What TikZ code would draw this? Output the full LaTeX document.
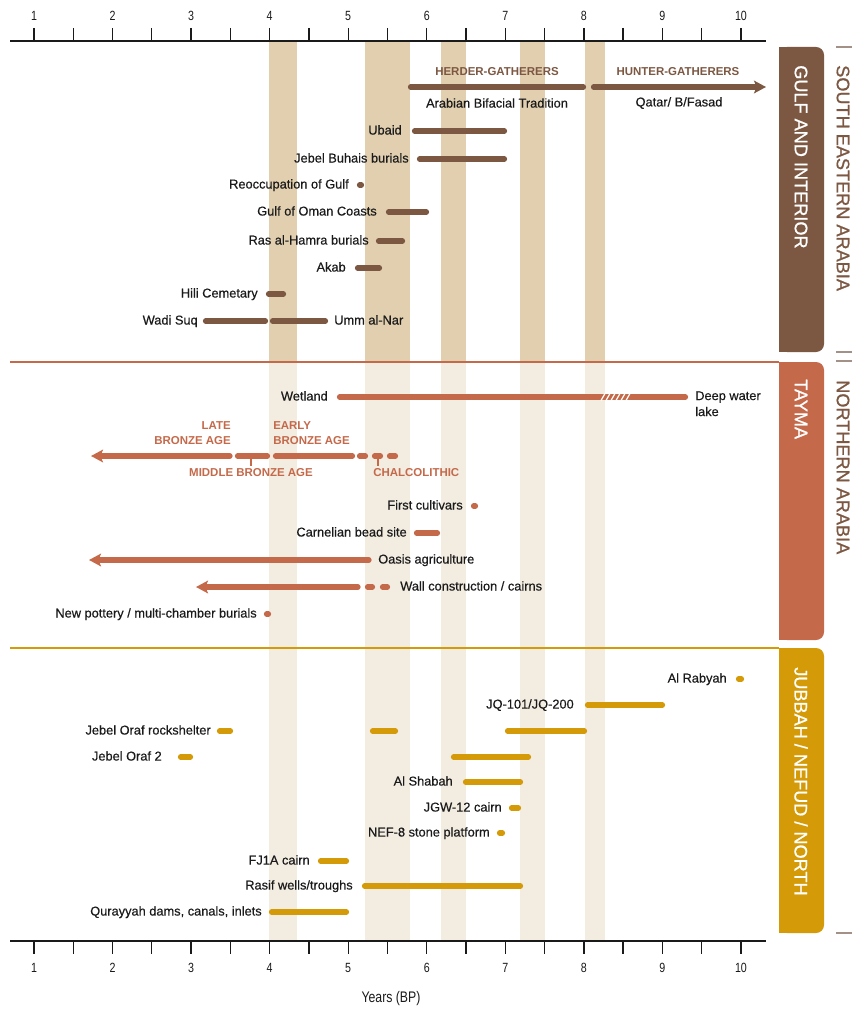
\documentclass[tikz,border=0pt]{standalone}
\usepackage{fontspec}
\setmainfont{Liberation Sans}
\newfontfamily\narrowfont[FakeStretch=0.8]{Liberation Sans}
\newfontfamily\medfont[FakeBold=0.45]{Liberation Sans}
\newfontfamily\tabfont[FakeBold=0.9]{Liberation Sans}
\usetikzlibrary{arrows.meta}
\definecolor{gulf}{HTML}{7C5742}
\definecolor{tay}{HTML}{C4694A}
\definecolor{jub}{HTML}{D49A08}
\definecolor{banddark}{HTML}{E1CFAF}
\definecolor{bandlight}{HTML}{F3ECE1}
\definecolor{txt}{HTML}{1A1A1A}
\definecolor{brk}{HTML}{A39086}
\newcommand\seg[4]{\draw[bar,#1] ({#3+2.5},#2) -- ({#4-2.5},#2);}
\begin{document}
\begin{tikzpicture}[x=0.75pt,y=-0.75pt,
  lbl/.style={font=\medfont\fontsize{9.6}{11}\selectfont, text=txt, inner sep=0pt},
  head/.style={font=\fontsize{8.6}{11.25}\selectfont\bfseries, inner sep=0pt},
  num/.style={font=\narrowfont\fontsize{10}{12}\selectfont, text=txt, inner sep=0pt},
  tabtxt/.style={font=\tabfont\fontsize{13.6}{16}\selectfont, text=white, rotate=-90, anchor=west, inner sep=0pt},
  regtxt/.style={font=\tabfont\fontsize{13.6}{16}\selectfont, text=gulf, rotate=-90, anchor=west, inner sep=0pt},
  bar/.style={line width=3.9pt, line cap=round},
  arr/.style={bar, -{Stealth[length=9pt, width=9.5pt, inset=2pt]}},
  axisline/.style={line width=1.5pt, txt},
  tick/.style={line width=1pt, txt},
  thin/.style={line width=0.8pt}
]
\useasboundingbox (0,0) rectangle (852,1009);
% bands
\foreach \a/\b in {269/297, 365/410, 441/466, 520/545, 585/605}{
  \fill[banddark] (\a,41) rectangle (\b,362);
  \fill[bandlight] (\a,362) rectangle (\b,941);
}
% separators
\draw[tay, line width=1.2pt] (10,362) -- (779,362);
\draw[jub, line width=1.2pt] (10,648) -- (779,648);
% axes
\draw[axisline] (10,41) -- (766,41);
\draw[axisline] (10,941) -- (766,941);
\foreach \i in {0,...,18}{
  \draw[tick] ({34+\i*39.275},28) -- ({34+\i*39.275},41);
  \draw[tick] ({34+\i*39.275},941) -- ({34+\i*39.275},954);
}
\foreach \i in {1,...,10}{
  \node[num] (t\i) at ({34+(\i-1)*78.55},16) {\i};
  \node[num] (b\i) at ({34+(\i-1)*78.55},968) {\i};
}
\node[num, font=\narrowfont\fontsize{11.5}{13}\selectfont] (years) at (391,999) {Years (BP)};
% tabs
\fill[gulf, rounded corners=6] (779,47) rectangle (824,352);
\fill[gulf] (779,47) rectangle (800,352);
\fill[tay, rounded corners=6] (779,362) rectangle (824,640);
\fill[tay] (779,362) rectangle (800,640);
\fill[jub, rounded corners=6] (779,648) rectangle (824,933);
\fill[jub] (779,648) rectangle (800,933);
\node[tabtxt] (tg) at (801,65) {GULF AND INTERIOR};
\node[tabtxt] (tt) at (801,379) {TAYMA};
\node[tabtxt] (tj) at (801,667) {JUBBAH / NEFUD / NORTH};
% region labels and brackets
\node[regtxt] (rse) at (843,65) {SOUTH EASTERN ARABIA};
\node[regtxt] (rna) at (843,380) {NORTHERN ARABIA};
\draw[brk, line width=1pt] (836,47) -- (852,47);
\draw[brk, line width=1pt] (836,352) -- (852,352);
\draw[brk, line width=1pt] (836,361) -- (852,361);
\draw[brk, line width=1pt] (836,933) -- (852,933);

% ===== Gulf =====
\node[head, text=gulf] (hg) at (497,72) {HERDER-GATHERERS};
\node[head, text=gulf] (hu) at (678,72) {HUNTER-GATHERERS};
\seg{gulf}{87}{408}{586}
\draw[arr, gulf] (593.5,87) -- (766,87);
\node[lbl] (abt) at (497,103) {Arabian Bifacial Tradition};
\node[lbl] (qbf) at (679,103) {Qatar/ B/Fasad};
\node[lbl, anchor=mid east] (ubaid) at (402,131) {Ubaid};
\seg{gulf}{131}{412}{507}
\node[lbl, anchor=mid east] (jbb) at (409,159) {Jebel Buhais burials};
\seg{gulf}{159}{417}{507}
\node[lbl, anchor=mid east] (rog) at (349,185) {Reoccupation of Gulf};
\seg{gulf}{185}{357}{364}
\node[lbl, anchor=mid east] (goc) at (377,212) {Gulf of Oman Coasts};
\seg{gulf}{212}{386}{429}
\node[lbl, anchor=mid east] (rhb) at (369,241) {Ras al-Hamra burials};
\seg{gulf}{241}{376}{405}
\node[lbl, anchor=mid east] (akab) at (346,268) {Akab};
\seg{gulf}{268}{355}{382}
\node[lbl, anchor=mid east] (hili) at (258,294) {Hili Cemetary};
\seg{gulf}{294}{266}{286}
\node[lbl, anchor=mid east] (wsq) at (198,321) {Wadi Suq};
\seg{gulf}{321}{203}{268}
\seg{gulf}{321}{270}{328}
\node[lbl, anchor=mid west] (uan) at (334,321) {Umm al-Nar};

% ===== Tayma =====
\node[lbl, anchor=mid east] (wet) at (328,397) {Wetland};
\seg{tay}{397}{337}{688}
\foreach \h in {601,606,...,626}{
  \draw[white, line width=0.9pt] (\h,400.5) -- (\h+4,393.5);
}
\node[lbl, anchor=north west, align=left, font=\medfont\fontsize{9.6}{12}\selectfont] (dwl) at (695,391) {Deep water\\lake};
\node[head, text=tay, anchor=north east, align=right] (lba) at (231,421) {LATE\\BRONZE AGE};
\node[head, text=tay, anchor=north west, align=left] (eba) at (273,421) {EARLY\\BRONZE AGE};
\draw[arr, tay] (230,456) -- (91,456);
\seg{tay}{456}{235}{270}
\seg{tay}{456}{273}{355}
\seg{tay}{456}{357}{368}
\seg{tay}{456}{372}{383}
\seg{tay}{456}{387}{398}
\draw[tay, thin] (251,456) -- (251,466);
\draw[tay, thin] (378,456) -- (378,466);
\node[head, text=tay] (mba) at (251,473) {MIDDLE BRONZE AGE};
\node[head, text=tay, anchor=mid west] (chal) at (373,473) {CHALCOLITHIC};
\node[lbl, anchor=mid east] (fcu) at (463,506) {First cultivars};
\seg{tay}{506}{471}{478}
\node[lbl, anchor=mid east] (cbs) at (407,533) {Carnelian bead site};
\seg{tay}{533}{414}{440}
\draw[arr, tay] (369,560) -- (89,560);
\node[lbl, anchor=mid west] (oag) at (378,560) {Oasis agriculture};
\draw[arr, tay] (358,587) -- (196,587);
\seg{tay}{587}{365}{375}
\seg{tay}{587}{380}{390}
\node[lbl, anchor=mid west] (wcc) at (400,587) {Wall construction / cairns};
\node[lbl, anchor=mid east] (npm) at (257,614) {New pottery / multi-chamber burials};
\seg{tay}{614}{264}{271}

% ===== Jubbah =====
\node[lbl, anchor=mid east] (alr) at (727,679) {Al Rabyah};
\seg{jub}{679}{736}{744}
\node[lbl, anchor=mid east] (jq) at (574,705) {JQ-101/JQ-200};
\seg{jub}{705}{585}{665}
\node[lbl, anchor=mid east] (jor) at (211,731) {Jebel Oraf rockshelter};
\seg{jub}{731}{217}{233}
\seg{jub}{731}{370}{398}
\seg{jub}{731}{505}{587}
\node[lbl, anchor=mid east] (jo2) at (162,757) {Jebel Oraf 2};
\seg{jub}{757}{178}{193}
\seg{jub}{757}{451}{531}
\node[lbl, anchor=mid east] (als) at (453,782) {Al Shabah};
\seg{jub}{782}{463}{523}
\node[lbl, anchor=mid east] (jgw) at (502,808) {JGW-12 cairn};
\seg{jub}{808}{509}{521}
\node[lbl, anchor=mid east] (nef) at (490,833) {NEF-8 stone platform};
\seg{jub}{833}{497}{505}
\node[lbl, anchor=mid east] (fj1) at (310,861) {FJ1A cairn};
\seg{jub}{861}{318}{349}
\node[lbl, anchor=mid east] (ras) at (353,886) {Rasif wells/troughs};
\seg{jub}{886}{362}{523}
\node[lbl, anchor=mid east] (qur) at (262,912) {Qurayyah dams, canals, inlets};
\seg{jub}{912}{269}{349}
\end{tikzpicture}
\end{document}
